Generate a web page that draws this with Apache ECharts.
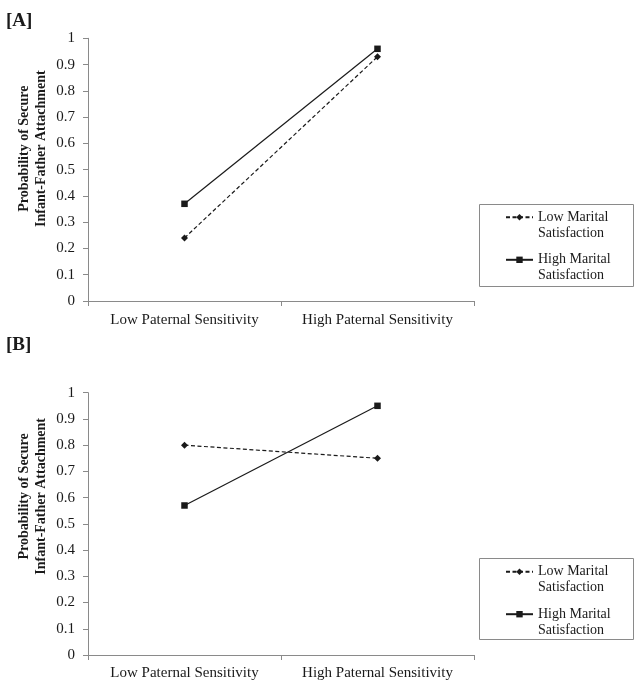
<!DOCTYPE html>
<html>
<head>
<meta charset="utf-8">
<script src="https://cdn.jsdelivr.net/npm/echarts@6/dist/echarts.min.js"></script>
<style>
html,body{margin:0;padding:0;background:#fff;}
#chart{width:643px;height:693px;}
</style>
</head>
<body>
<div id="chart"></div>
<script>
var categories = ['Low Paternal Sensitivity', 'High Paternal Sensitivity'];
var seriesNames = ['Low Marital\nSatisfaction', 'High Marital\nSatisfaction'];
var panelLabels = ['[A]', '[B]'];
var yTitle = 'Probability of Secure\nInfant-Father Attachment';
var aLowMarital = [0.24, 0.93];
var aHighMarital = [0.37, 0.96];
var bLowMarital = [0.80, 0.75];
var bHighMarital = [0.57, 0.95];

var FONT = 'Liberation Serif';
var AXIS_GRAY = '#8a8a8a';
var INK = '#1a1a1a';

var grids = [
  {left: 88, top: 38.3, width: 386, height: 262.7},
  {left: 88, top: 392.7, width: 386, height: 262.3}
];

function xAxisFor(i, margin) {
  return {
    type: 'category', gridIndex: i, data: categories, boundaryGap: true,
    axisLine: {lineStyle: {color: AXIS_GRAY, width: 1}},
    axisTick: {show: true, interval: 0, alignWithLabel: false, length: 5, inside: false, lineStyle: {color: AXIS_GRAY}},
    axisLabel: {interval: 0, margin: margin, fontFamily: FONT, fontSize: 15, color: INK},
    splitLine: {show: false}
  };
}
function yAxisFor(i, shift) {
  return {
    type: 'value', gridIndex: i, min: 0, max: 1, interval: 0.1,
    axisLine: {show: true, lineStyle: {color: AXIS_GRAY, width: 1}},
    axisTick: {show: true, length: 5, inside: false, lineStyle: {color: AXIS_GRAY}},
    axisLabel: {margin: 13, fontFamily: FONT, fontSize: 15, color: INK},
    splitLine: {show: false},
    name: yTitle, nameLocation: 'middle', nameRotate: 90, nameGap: 38.5, nameMoveOverlap: false,
    nameTextStyle: {fontFamily: FONT, fontSize: 14, fontWeight: 'bold', color: INK, lineHeight: 17, padding: [0, 0, 0, shift]}
  };
}
function lowSeries(i, data) {
  return {
    name: seriesNames[0], type: 'line', xAxisIndex: i, yAxisIndex: i, data: data,
    symbol: 'diamond', symbolSize: 7,
    lineStyle: {color: INK, width: 1.2, type: [4, 2.5]},
    itemStyle: {color: INK}, animation: false
  };
}
function highSeries(i, data) {
  return {
    name: seriesNames[1], type: 'line', xAxisIndex: i, yAxisIndex: i, data: data,
    symbol: 'rect', symbolSize: 6.5,
    lineStyle: {color: INK, width: 1.2, type: 'solid'},
    itemStyle: {color: INK}, animation: false
  };
}
function legendFor(top) {
  return {
    show: true, orient: 'vertical', left: 505, top: top, padding: 0,
    itemWidth: 27, itemHeight: 8, itemGap: -5.5,
    data: seriesNames,
    selectedMode: false,
    // a blank first line keeps the icon level with the first text line
    formatter: function (name) { return ' \n' + name; },
    textStyle: {fontFamily: FONT, fontSize: 14, color: INK, lineHeight: 16}
  };
}

var chart = echarts.init(document.getElementById('chart'), null, {renderer: 'canvas'});
chart.setOption({
  backgroundColor: '#ffffff',
  animation: false,
  title: [
    {text: panelLabels[0], left: 6, top: 12, padding: 0, textStyle: {fontFamily: FONT, fontSize: 19, fontWeight: 'bold', color: INK}},
    {text: panelLabels[1], left: 6, top: 336, padding: 0, textStyle: {fontFamily: FONT, fontSize: 19, fontWeight: 'bold', color: INK}}
  ],
  grid: grids,
  xAxis: [xAxisFor(0, 12), xAxisFor(1, 11)],
  yAxis: [yAxisFor(0, 42), yAxisFor(1, 55)],
  legend: [legendFor(193.3), legendFor(547.7)],
  graphic: [
    {type: 'rect', shape: {x: 479.5, y: 204.5, width: 154, height: 82}, style: {fill: 'none', stroke: AXIS_GRAY, lineWidth: 1}, silent: true},
    {type: 'rect', shape: {x: 479.5, y: 558.5, width: 154, height: 81}, style: {fill: 'none', stroke: AXIS_GRAY, lineWidth: 1}, silent: true}
  ],
  series: [
    lowSeries(0, aLowMarital), highSeries(0, aHighMarital),
    lowSeries(1, bLowMarital), highSeries(1, bHighMarital)
  ]
});
</script>
</body>
</html>
